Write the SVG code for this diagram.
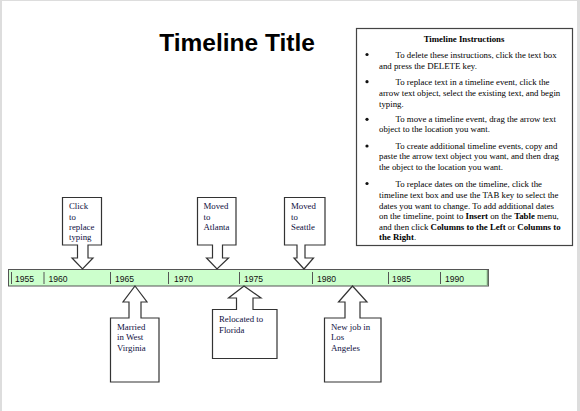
<svg xmlns="http://www.w3.org/2000/svg" width="580" height="411" viewBox="0 0 580 411">
<style>
.callout{fill:#fff;stroke:#333;stroke-width:1.2}
.ct{font-family:"Liberation Serif",serif;font-size:8.8px;fill:#0e0e40}
.it{font-family:"Liberation Serif",serif;font-size:8.8px;fill:#000}
.yr{font-family:"Liberation Sans",sans-serif;font-size:8.6px;fill:#111}
.tick{stroke:#555;stroke-width:1}
.bul{fill:#111}
</style>
<rect x="0" y="0" width="580" height="411" fill="#fff"/>
<g id="page-edges" fill="#ddd">
<rect x="0" y="0" width="2" height="411"/>
<rect x="0" y="0" width="580" height="1"/>
<rect x="577" y="0" width="3" height="411"/>
</g>
<g id="title"><text x="237" y="51" text-anchor="middle" font-family="Liberation Sans,sans-serif" font-weight="bold" font-size="24.5px" fill="#000">Timeline Title</text></g>
<g id="instructions">
<rect x="356.5" y="28.5" width="216" height="217" fill="#fff" stroke="#444" stroke-width="1.2"/>
<text class="it" x="464" y="42" text-anchor="middle" font-weight="bold">Timeline Instructions</text>
<g class="bul">
<circle cx="367" cy="54.5" r="1.6"/>
<circle cx="367" cy="81.7" r="1.6"/>
<circle cx="367" cy="119.3" r="1.6"/>
<circle cx="367" cy="146" r="1.6"/>
<circle cx="367" cy="183.5" r="1.6"/>
</g>
<g class="it">
<text x="395.5" y="57.5">To delete these instructions, click the text box</text>
<text x="379" y="68.7">and press the DELETE key.</text>
<text x="395.5" y="84.7">To replace text in a timeline event, click the</text>
<text x="379" y="96">arrow text object, select the existing text, and begin</text>
<text x="379" y="107">typing.</text>
<text x="395.5" y="122.3">To move a timeline event, drag the arrow text</text>
<text x="379" y="131.5">object to the location you want.</text>
<text x="395.5" y="149">To create additional timeline events, copy and</text>
<text x="379" y="159.2">paste the arrow text object you want, and then drag</text>
<text x="379" y="169.7">the object to the location you want.</text>
<text x="395.5" y="186.5">To replace dates on the timeline, click the</text>
<text x="379" y="198">timeline text box and use the TAB key to select the</text>
<text x="379" y="209">dates you want to change. To add additional dates</text>
<text x="379" y="219.3">on the timeline, point to <tspan font-weight="bold">Insert</tspan> on the <tspan font-weight="bold">Table</tspan> menu,</text>
<text x="379" y="229.8">and then click <tspan font-weight="bold">Columns to the Left</tspan> or <tspan font-weight="bold">Columns to</tspan></text>
<text x="379" y="240" font-weight="bold">the Right<tspan font-weight="normal">.</tspan></text>
</g>
</g>
<g id="timeline">
<rect x="8.5" y="269.5" width="480" height="16.5" fill="#ccffcc" stroke="#555" stroke-width="1"/>
<line x1="487.5" y1="270" x2="487.5" y2="285.5" stroke="#7a9a7a" stroke-width="1.5"/>
<g class="tick">
<line x1="11.5" y1="272" x2="11.5" y2="284"/>
<line x1="44" y1="272" x2="44" y2="284"/>
<line x1="110.5" y1="272" x2="110.5" y2="284"/>
<line x1="168.5" y1="272" x2="168.5" y2="284"/>
<line x1="239.5" y1="272" x2="239.5" y2="284"/>
<line x1="312.5" y1="272" x2="312.5" y2="284"/>
<line x1="388.5" y1="272" x2="388.5" y2="284"/>
<line x1="440.5" y1="272" x2="440.5" y2="284"/>
</g>
<g class="yr">
<text x="15" y="281.5">1955</text>
<text x="48.5" y="281.5">1960</text>
<text x="115" y="281.5">1965</text>
<text x="174" y="281.5">1970</text>
<text x="244" y="281.5">1975</text>
<text x="317" y="281.5">1980</text>
<text x="392" y="281.5">1985</text>
<text x="445" y="281.5">1990</text>
</g>
</g>
<g id="event-click">
<path class="callout" d="M62.5,197.5 H101.5 V245 H88 V258 H93 L82.5,269 L72,258 H77.5 V245 H62.5 Z"/>
<text class="ct" x="69" y="209">Click</text>
<text class="ct" x="69" y="219.5">to</text>
<text class="ct" x="69" y="229.5">replace</text>
<text class="ct" x="69" y="239.5">typing</text>
</g>
<g id="event-atlanta">
<path class="callout" d="M197.5,197.5 H236 V245 H222.5 V258 H228.5 L217,269 L206.5,258 H212.5 V245 H197.5 Z"/>
<text class="ct" x="203.5" y="209">Moved</text>
<text class="ct" x="203.5" y="219.5">to</text>
<text class="ct" x="203.5" y="229.5">Atlanta</text>
</g>
<g id="event-seattle">
<path class="callout" d="M284.5,197.5 H325 V245 H305 V258 H313.5 L304,269 L294,258 H297 V245 H284.5 Z"/>
<text class="ct" x="291" y="209">Moved</text>
<text class="ct" x="291" y="219.5">to</text>
<text class="ct" x="291" y="229.5">Seattle</text>
</g>
<g id="event-married">
<path class="callout" d="M135,286 L147,302 H141 V318 H159 V382 H110.5 V318 H129 V302 H123 Z"/>
<text class="ct" x="117" y="329.5">Married</text>
<text class="ct" x="117" y="340">in West</text>
<text class="ct" x="117" y="350.5">Virginia</text>
</g>
<g id="event-florida">
<path class="callout" d="M244,286 L261,298 H253 V309.5 H277 V358.5 H212.5 V309.5 H236.5 V298 H228.5 Z"/>
<text class="ct" x="219" y="321.5">Relocated to</text>
<text class="ct" x="219" y="332.5">Florida</text>
</g>
<g id="event-la">
<path class="callout" d="M352.5,286 L367,302 H360 V318 H381 V382 H324.5 V318 H345 V302 H338.5 Z"/>
<text class="ct" x="331" y="329.5">New job in</text>
<text class="ct" x="331" y="340">Los</text>
<text class="ct" x="331" y="350.5">Angeles</text>
</g>
</svg>
